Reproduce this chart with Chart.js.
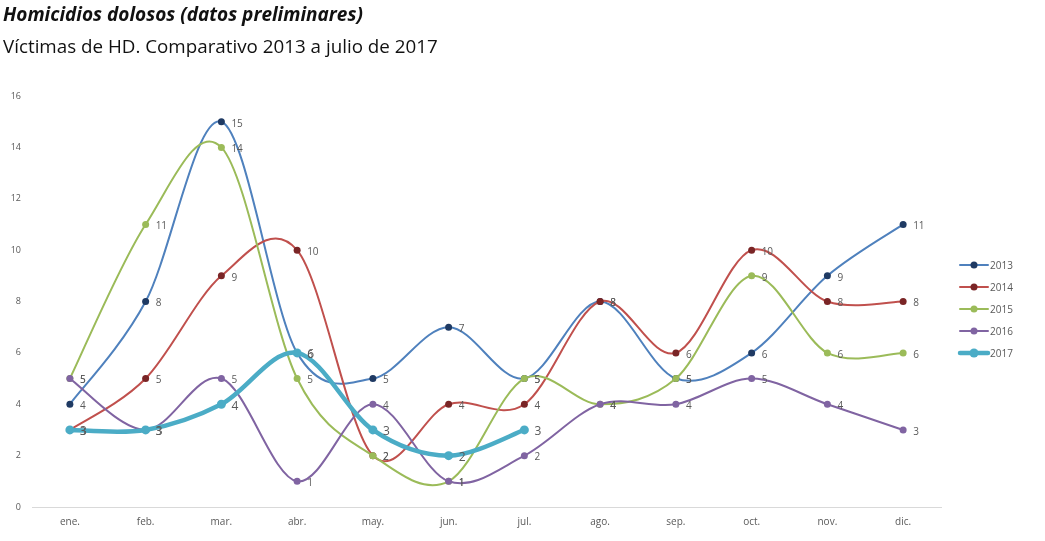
<!DOCTYPE html>
<html>
<head>
<meta charset="utf-8">
<script src="https://cdn.jsdelivr.net/npm/chart.js@4/dist/chart.umd.min.js"></script>
<style>
  html, body { margin: 0; padding: 0; background: #fff; }
  #wrap { position: relative; width: 1045px; height: 541px; overflow: hidden; }
  #t1 { position: absolute; left: 3px; top: 1px; font: italic bold 19px "Open Sans", sans-serif; color: #111; white-space: nowrap; }
  #t2 { position: absolute; left: 3px; top: 33px; font: 18.8px "Open Sans", sans-serif; color: #111; white-space: nowrap; }
  canvas { position: absolute; left: 0; top: 0; }
</style>
</head>
<body>
<div id="wrap">
  <canvas id="c" width="1045" height="541"></canvas>
  <div id="t1">Homicidios dolosos (datos preliminares)</div>
  <div id="t2">Víctimas de HD. Comparativo 2013 a julio de 2017</div>
</div>
<script>
const months = ['ene.', 'feb.', 'mar.', 'abr.', 'may.', 'jun.', 'jul.', 'ago.', 'sep.', 'oct.', 'nov.', 'dic.'];
const yTicks = [0, 2, 4, 6, 8, 10, 12, 14, 16];
const seriesNames = ['2013', '2014', '2015', '2016', '2017'];
const v2013 = [4, 8, 15, 6, 5, 7, 5, 8, 5, 6, 9, 11];
const v2014 = [3, 5, 9, 10, 2, 4, 4, 8, 6, 10, 8, 8];
const v2015 = [5, 11, 14, 5, 2, 1, 5, 4, 5, 9, 6, 6];
const v2016 = [5, 3, 5, 1, 4, 1, 2, 4, 4, 5, 4, 3];
const v2017 = [3, 3, 4, 6, 3, 2, 3];

const styles = [
  { line: '#4F81BD', mark: '#1F3A63', w: 2, r: 3.5, order: 4, lbl: 10 },
  { line: '#C0504D', mark: '#7A2526', w: 2, r: 3.5, order: 3, lbl: 10 },
  { line: '#9BBB59', mark: '#9BBB59', w: 2, r: 3.5, order: 2, lbl: 10 },
  { line: '#8064A2', mark: '#8064A2', w: 2, r: 3.5, order: 1, lbl: 10 },
  { line: '#4BACC6', mark: '#4BACC6', w: 4.5, r: 4.5, order: 0, lbl: 12 }
];
const values = [v2013, v2014, v2015, v2016, v2017];

const datasets = values.map((vals, i) => ({
  label: seriesNames[i],
  data: vals,
  borderColor: styles[i].line,
  backgroundColor: styles[i].mark,
  pointBackgroundColor: styles[i].mark,
  pointBorderColor: styles[i].mark,
  pointBorderWidth: 0,
  pointRadius: styles[i].r,
  pointHoverRadius: styles[i].r,
  borderWidth: styles[i].w,
  tension: 0.4,
  order: styles[i].order,
  fill: false
}));

// Excel-like (Catmull-Rom) smoothing applied to the library's own point positions
const smoothPlugin = {
  id: 'excelSmooth',
  beforeDatasetDraw(chart, args) {
    const meta = args.meta;
    const line = meta.dataset;
    if (line && line.updateControlPoints) line.updateControlPoints(chart.chartArea, 'x');
    const pts = meta.data;
    const n = pts.length;
    for (let i = 0; i < n; i++) {
      const p = pts[i];
      const prev = pts[Math.max(0, i - 1)];
      const next = pts[Math.min(n - 1, i + 1)];
      const tx = (next.x - prev.x) / 6;
      const ty = (next.y - prev.y) / 6;
      p.cp1x = p.x - tx; p.cp1y = p.y - ty;
      p.cp2x = p.x + tx; p.cp2y = p.y + ty;
    }
    if (line) line._pointsUpdated = true;
  }
};

const labelPlugin = {
  id: 'valueLabels',
  afterDatasetsDraw(chart) {
    const ctx = chart.ctx;
    ctx.save();
    ctx.fillStyle = '#595959';
    ctx.textAlign = 'left';
    ctx.textBaseline = 'middle';
    chart.data.datasets.forEach((ds, i) => {
      const meta = chart.getDatasetMeta(i);
      ctx.font = styles[i].lbl + 'px "Open Sans", sans-serif';
      meta.data.forEach((pt, j) => {
        ctx.fillText(String(ds.data[j]), pt.x + 10, pt.y + 2);
      });
    });
    ctx.restore();
  }
};

const legendPlugin = {
  id: 'sideLegend',
  afterDraw(chart) {
    const ctx = chart.ctx;
    const x0 = chart.chartArea.right + 19;
    const yStart = 265, gap = 22;
    ctx.save();
    chart.data.datasets.forEach((ds, i) => {
      const y = yStart + i * gap;
      ctx.strokeStyle = styles[i].line;
      ctx.lineWidth = styles[i].w;
      ctx.lineCap = 'round';
      ctx.beginPath();
      ctx.moveTo(x0, y);
      ctx.lineTo(x0 + 28, y);
      ctx.stroke();
      ctx.fillStyle = styles[i].mark;
      ctx.beginPath();
      ctx.arc(x0 + 14, y, styles[i].r, 0, Math.PI * 2);
      ctx.fill();
      ctx.fillStyle = '#595959';
      ctx.font = '10px "Open Sans", sans-serif';
      ctx.textAlign = 'left';
      ctx.textBaseline = 'middle';
      ctx.fillText(ds.label, x0 + 30, y + 1);
    });
    ctx.restore();
  }
};

new Chart(document.getElementById('c'), {
  type: 'line',
  data: { labels: months, datasets },
  options: {
    responsive: false,
    animation: false,
    devicePixelRatio: 1,
    layout: { padding: { top: 96, right: 104, left: 0, bottom: 0 } },
    plugins: {
      legend: { display: false },
      tooltip: { enabled: false },
      title: { display: false }
    },
    scales: {
      x: {
        offset: true,
        grid: { display: false, drawTicks: false },
        border: { display: true, color: '#D9D9D9', width: 1 },
        ticks: { color: '#595959', font: { size: 10, family: '"Open Sans", sans-serif' }, padding: 9 },
        afterFit(s) { s.height = 34; }
      },
      y: {
        min: 0, max: 16,
        grid: { display: false, drawTicks: false },
        border: { display: false },
        afterBuildTicks(s) { s.ticks = yTicks.map(v => ({ value: v })); },
        ticks: { color: '#595959', font: { size: 9, family: '"Open Sans", sans-serif' }, padding: 11 },
        afterFit(s) { s.width = 32; }
      }
    }
  },
  plugins: [smoothPlugin, labelPlugin, legendPlugin]
});
</script>
</body>
</html>
